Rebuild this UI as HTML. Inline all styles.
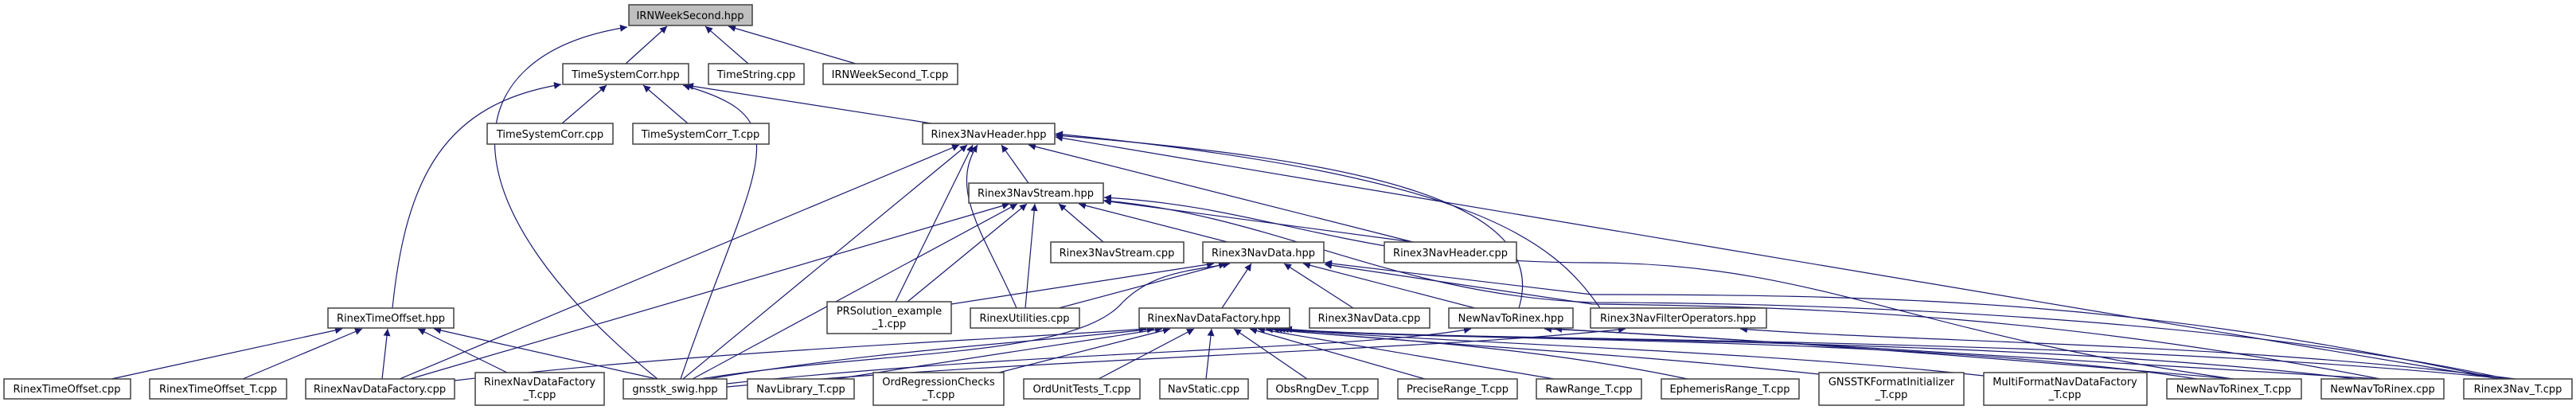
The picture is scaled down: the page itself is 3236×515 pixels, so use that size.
<!DOCTYPE html>
<html><head><meta charset="utf-8"><style>
html,body{margin:0;padding:0;background:#fff;width:3236px;height:515px;overflow:hidden}
svg{display:block}
text{font-family:"DejaVu Sans","Liberation Sans",sans-serif;font-size:13px;fill:#000;text-anchor:middle}
.n{fill:#fff;stroke:#404040;stroke-width:1.5}
.e{fill:none;stroke:#191970;stroke-width:1.2}
</style></head><body>
<svg width="3236" height="515" viewBox="0 0 3236 515">
<defs><marker id="a" viewBox="0 0 10 10" refX="10" refY="5" markerWidth="9" markerHeight="9" markerUnits="userSpaceOnUse" orient="auto"><path d="M0,0 L10,5 L0,10 z" fill="#191970"/></marker></defs>
<g class="e" marker-end="url(#a)">
<path d="M786,80 L838,33"/>
<path d="M940,80 L886,33"/>
<path d="M1075,80 L915,33"/>
<path d="M826,476 C560,260 560,70 788,34"/>
<path d="M706,155 L762,107"/>
<path d="M864,155 L808,107"/>
<path d="M1170,155 L862,107"/>
<path d="M493,387 C510,220 560,130 705,106"/>
<path d="M855,476 C950,200 1010,150 858,107"/>
<path d="M1292,230 L1258,182"/>
<path d="M1775,304 L1292,182"/>
<path d="M502,476 L1205,182"/>
<path d="M858,476 L1215,182"/>
<path d="M1125,379 L1222,182"/>
<path d="M1277,387 C1240,300 1190,240 1228,182"/>
<path d="M1908,387 C1950,250 1700,200 1326,170"/>
<path d="M2010,387 C1950,300 1850,220 1326,168"/>
<path d="M3140,476 L1326,172"/>
<path d="M1386,304 L1330,256"/>
<path d="M1542,304 L1355,256"/>
<path d="M1775,304 L1386,252"/>
<path d="M515,476 L1268,256"/>
<path d="M870,476 L1278,256"/>
<path d="M1140,379 L1290,256"/>
<path d="M1288,387 L1300,256"/>
<path d="M2806,476 C2400,420 2280,330 2000,330 C1700,330 1600,260 1387,248"/>
<path d="M3150,476 C2800,400 2300,380 2000,380 C1750,370 1600,270 1387,252"/>
<path d="M1195,382 L1525,331"/>
<path d="M1330,387 L1540,331"/>
<path d="M1535,387 L1572,331"/>
<path d="M1700,387 L1613,331"/>
<path d="M1853,387 L1637,331"/>
<path d="M880,476 C1100,440 1350,450 1410,380 C1450,340 1500,340 1545,331"/>
<path d="M3140,476 C2700,380 2400,370 2000,370 L1664,330"/>
<path d="M2990,476 C2600,400 2300,385 2000,382 L1664,332"/>
<path d="M571,478 C900,440 1200,430 1440,413"/>
<path d="M890,476 C1100,440 1300,430 1450,413"/>
<path d="M1050,476 L1460,413"/>
<path d="M1255,468 L1470,413"/>
<path d="M1380,476 L1500,413"/>
<path d="M1515,476 L1522,413"/>
<path d="M1642,476 L1550,413"/>
<path d="M1790,476 L1570,413"/>
<path d="M1952,476 L1580,413"/>
<path d="M2120,476 C1900,430 1700,425 1590,413"/>
<path d="M2285,470 C2000,440 1750,430 1598,413"/>
<path d="M2492,472 C2200,440 1800,430 1602,413"/>
<path d="M2760,476 C2400,420 1800,430 1606,413"/>
<path d="M2960,476 C2500,420 1800,430 1610,413"/>
<path d="M3150,476 C2600,420 1800,430 1614,413"/>
<path d="M140,476 L430,413"/>
<path d="M305,476 L455,413"/>
<path d="M480,476 L487,413"/>
<path d="M637,468 L525,413"/>
<path d="M825,476 L545,413"/>
<path d="M913,482 C1300,440 1700,440 1848,413"/>
<path d="M913,486 C1300,450 1800,440 2042,413"/>
<path d="M2990,476 C2400,440 2100,420 1953,413"/>
<path d="M2806,476 C2400,440 2100,420 1940,413"/>
<path d="M3160,476 C2800,430 2400,430 2186,413"/>
</g>
<g>
<rect x="790" y="6" width="155" height="26" fill="#bfbfbf" stroke="#404040" stroke-width="1.5"/><text x="867" y="24">IRNWeekSecond.hpp</text>
<rect class="n" x="707" y="80" width="158" height="26"/><text x="786" y="98">TimeSystemCorr.hpp</text>
<rect class="n" x="890" y="80" width="120" height="26"/><text x="950" y="98">TimeString.cpp</text>
<rect class="n" x="1034" y="80" width="169" height="26"/><text x="1118" y="98">IRNWeekSecond_T.cpp</text>
<rect class="n" x="612" y="155" width="158" height="26"/><text x="691" y="173">TimeSystemCorr.cpp</text>
<rect class="n" x="795" y="155" width="171" height="26"/><text x="880" y="173">TimeSystemCorr_T.cpp</text>
<rect class="n" x="1159" y="155" width="166" height="26"/><text x="1242" y="173">Rinex3NavHeader.hpp</text>
<rect class="n" x="1217" y="230" width="169" height="25"/><text x="1301" y="247">Rinex3NavStream.hpp</text>
<rect class="n" x="1320" y="304" width="167" height="26"/><text x="1403" y="322">Rinex3NavStream.cpp</text>
<rect class="n" x="1511" y="304" width="152" height="26"/><text x="1587" y="322">Rinex3NavData.hpp</text>
<rect class="n" x="1739" y="304" width="166" height="26"/><text x="1822" y="322">Rinex3NavHeader.cpp</text>
<rect class="n" x="412" y="387" width="158" height="25"/><text x="491" y="404">RinexTimeOffset.hpp</text>
<rect class="n" x="1039" y="379" width="156" height="40"/><text x="1117" y="395">PRSolution_example</text><text x="1117" y="411">_1.cpp</text>
<rect class="n" x="1219" y="387" width="137" height="25"/><text x="1287" y="404">RinexUtilities.cpp</text>
<rect class="n" x="1431" y="387" width="189" height="25"/><text x="1525" y="404">RinexNavDataFactory.hpp</text>
<rect class="n" x="1645" y="387" width="151" height="25"/><text x="1720" y="404">Rinex3NavData.cpp</text>
<rect class="n" x="1820" y="387" width="156" height="25"/><text x="1898" y="404">NewNavToRinex.hpp</text>
<rect class="n" x="1998" y="387" width="221" height="25"/><text x="2108" y="404">Rinex3NavFilterOperators.hpp</text>
<rect class="n" x="5" y="476" width="159" height="25"/><text x="84" y="493">RinexTimeOffset.cpp</text>
<rect class="n" x="188" y="476" width="172" height="25"/><text x="274" y="493">RinexTimeOffset_T.cpp</text>
<rect class="n" x="384" y="476" width="187" height="25"/><text x="477" y="493">RinexNavDataFactory.cpp</text>
<rect class="n" x="597" y="468" width="162" height="41"/><text x="678" y="484">RinexNavDataFactory</text><text x="678" y="500">_T.cpp</text>
<rect class="n" x="783" y="476" width="130" height="25"/><text x="848" y="493">gnsstk_swig.hpp</text>
<rect class="n" x="939" y="476" width="134" height="25"/><text x="1006" y="493">NavLibrary_T.cpp</text>
<rect class="n" x="1097" y="468" width="164" height="41"/><text x="1179" y="484">OrdRegressionChecks</text><text x="1179" y="500">_T.cpp</text>
<rect class="n" x="1286" y="476" width="146" height="25"/><text x="1359" y="493">OrdUnitTests_T.cpp</text>
<rect class="n" x="1457" y="476" width="111" height="25"/><text x="1512" y="493">NavStatic.cpp</text>
<rect class="n" x="1592" y="476" width="139" height="25"/><text x="1661" y="493">ObsRngDev_T.cpp</text>
<rect class="n" x="1756" y="476" width="150" height="25"/><text x="1831" y="493">PreciseRange_T.cpp</text>
<rect class="n" x="1930" y="476" width="132" height="25"/><text x="1996" y="493">RawRange_T.cpp</text>
<rect class="n" x="2087" y="476" width="173" height="25"/><text x="2173" y="493">EphemerisRange_T.cpp</text>
<rect class="n" x="2285" y="468" width="182" height="41"/><text x="2376" y="484">GNSSTKFormatInitializer</text><text x="2376" y="500">_T.cpp</text>
<rect class="n" x="2492" y="468" width="205" height="41"/><text x="2594" y="484">MultiFormatNavDataFactory</text><text x="2594" y="500">_T.cpp</text>
<rect class="n" x="2722" y="476" width="169" height="25"/><text x="2806" y="493">NewNavToRinex_T.cpp</text>
<rect class="n" x="2916" y="476" width="154" height="25"/><text x="2993" y="493">NewNavToRinex.cpp</text>
<rect class="n" x="3095" y="476" width="136" height="25"/><text x="3163" y="493">Rinex3Nav_T.cpp</text>
</g>
</svg>
</body></html>
